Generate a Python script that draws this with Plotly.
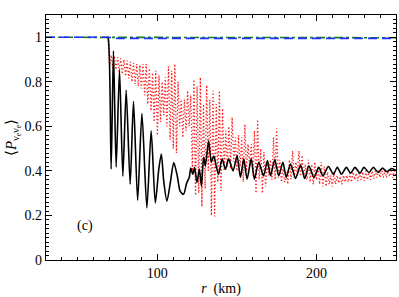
import plotly.graph_objects as go

# ---- data ----
black_r = [68.4, 69.1, 70.95, 72.4, 74.1, 76.2, 78.3, 80.4, 82.9, 85.0, 87.6, 90.3, 93.4, 96.1,
           98.7, 100.9, 102.5, 104.0, 106.0, 108.1, 110.3, 112.5, 114.4, 116.5, 118.4, 120.1, 121.0,
           122.3, 123.4, 124.9, 126.4, 127.7, 129.1, 130.2, 132.2, 133.9, 135.5, 137.1, 138.5, 140.7,
           142.8, 144.8, 147.6, 150.1, 152.2, 154.3, 156.4, 159.0, 161.0, 163.7, 166.7, 169.2, 171.1,
           173.8, 176.3, 178.9, 181.0, 183.7, 186.9, 190.0, 192.7, 195.2, 198.4, 201.5, 204.1, 207.5,
           210.6, 213.1, 215.7, 218.8, 221.5, 224.2, 227.4, 229.9, 233.0, 235.8, 238.7, 241.5, 244.2,
           247.2, 250]
black_p = [1.0, 0.995, 0.408, 0.939, 0.417, 0.853, 0.376, 0.762, 0.340, 0.712, 0.268, 0.658, 0.234,
           0.580, 0.256, 0.408, 0.476, 0.354, 0.264, 0.345, 0.438, 0.378, 0.308, 0.295, 0.345, 0.372,
           0.413, 0.385, 0.415, 0.348, 0.408, 0.332, 0.461, 0.423, 0.535, 0.440, 0.467, 0.417, 0.385,
           0.454, 0.408, 0.454, 0.400, 0.468, 0.371, 0.454, 0.363, 0.454, 0.363, 0.439, 0.378, 0.446,
           0.378, 0.450, 0.378, 0.439, 0.371, 0.431, 0.366, 0.426, 0.366, 0.423, 0.371, 0.416, 0.378,
           0.420, 0.385, 0.416, 0.385, 0.416, 0.390, 0.416, 0.390, 0.416, 0.393, 0.416, 0.393, 0.413,
           0.396, 0.411, 0.402]

red_r = list(range(69, 251))
red_p = [1.0, 0.87, 0.92, 0.86, 0.915, 0.855, 0.91, 0.845, 0.905, 0.835, 0.90, 0.825, 0.895, 0.815,
         0.89, 0.80, 0.885, 0.79, 0.88, 0.78, 0.875, 0.77, 0.88, 0.74, 0.88, 0.70, 0.86, 0.67, 0.84,
         0.62, 0.85, 0.56, 0.83, 0.62, 0.80, 0.65, 0.82, 0.60, 0.87,
         0.54, 0.85, 0.50, 0.88, 0.48, 0.80, 0.60, 0.72, 0.55, 0.72,
         0.58, 0.76, 0.60, 0.74, 0.40, 0.81, 0.29, 0.78, 0.30, 0.82,
         0.24, 0.70, 0.32, 0.785, 0.40, 0.72, 0.20, 0.76, 0.195, 0.70,
         0.35, 0.76, 0.31, 0.68, 0.40, 0.58, 0.42, 0.60, 0.41, 0.64,
         0.44, 0.55, 0.40, 0.56, 0.42, 0.55, 0.35, 0.61, 0.40, 0.52,
         0.42, 0.52, 0.38, 0.58, 0.30, 0.63, 0.36, 0.50, 0.30, 0.485,
         0.33, 0.44, 0.38, 0.45, 0.36, 0.55, 0.36, 0.59, 0.37, 0.45,
         0.35, 0.41, 0.35, 0.395, 0.34, 0.45, 0.363, 0.49, 0.37, 0.44,
         0.38, 0.49, 0.376, 0.47, 0.37, 0.43, 0.36, 0.45, 0.35, 0.43,
         0.34, 0.44, 0.36, 0.42, 0.34, 0.44, 0.33, 0.42, 0.33, 0.395,
         0.34, 0.38, 0.33, 0.395, 0.34, 0.38, 0.345, 0.375, 0.34, 0.38,
         0.35, 0.38, 0.35, 0.39, 0.35, 0.395, 0.36, 0.39, 0.355, 0.39,
         0.36, 0.395, 0.355, 0.40, 0.36, 0.395, 0.36, 0.40, 0.365, 0.40,
         0.37, 0.405, 0.37, 0.41, 0.37, 0.40, 0.37, 0.40, 0.375, 0.40,
         0.37, 0.40, 0.375]

green_r = [30, 69, 75, 250]
green_p = [1.0, 1.0, 0.998, 0.998]
blue_r = [30, 69, 75, 250]
blue_p = [1.0, 1.0, 0.995, 0.995]

FONT = "Liberation Serif"

fig = go.Figure()
fig.add_trace(go.Scatter(x=red_r, y=red_p, mode="lines",
                         line=dict(color="#ff1a1a", width=1.3, dash="1.3px,2.2px"), showlegend=False))
fig.add_trace(go.Scatter(x=black_r, y=black_p, mode="lines",
                         line=dict(color="black", width=1.6, shape="spline", smoothing=0.7),
                         showlegend=False))
fig.add_trace(go.Scatter(x=green_r, y=green_p, mode="lines",
                         line=dict(color="#108010", width=1.6, dash="dashdot"), showlegend=False))
fig.add_trace(go.Scatter(x=blue_r, y=blue_p, mode="lines",
                         line=dict(color="#2030ff", width=1.6, dash="9px,5px"), showlegend=False))

fig.add_annotation(x=54.6, y=0.154, text="(c)", showarrow=False,
                   font=dict(family=FONT, size=14, color="black"))

axis_common = dict(showline=True, linecolor="black", linewidth=1.2, mirror="ticks",
                   ticks="inside", ticklen=6, tickwidth=1, tickcolor="black",
                   showgrid=False, zeroline=False,
                   tickfont=dict(family=FONT, size=14, color="black"))

fig.update_xaxes(range=[30, 250], tickmode="linear", tick0=0, dtick=100,
                 minor=dict(dtick=10, ticklen=3, ticks="inside", tickcolor="black"),
                 title=dict(text="<i>r</i>  (km)", font=dict(family=FONT, size=14, color="black"),
                            standoff=4),
                 **axis_common)
fig.update_yaxes(range=[0, 1.1], tickmode="linear", tick0=0, dtick=0.2,
                 minor=dict(dtick=0.02, ticklen=3, ticks="inside", tickcolor="black"),
                 title=dict(text="⟨<i>P</i><sub>ν<sub>e</sub>ν<sub>e</sub></sub>⟩",
                            font=dict(family=FONT, size=15, color="black"), standoff=4),
                 **axis_common)

fig.update_layout(width=399, height=297, margin=dict(l=46, r=3, t=15, b=37),
                  plot_bgcolor="white", paper_bgcolor="white",
                  font=dict(family=FONT, size=14, color="black"))

fig.write_html("out.html", config={"displayModeBar": False},
               post_script="document.body.style.margin='0';document.body.style.overflow='hidden';")
